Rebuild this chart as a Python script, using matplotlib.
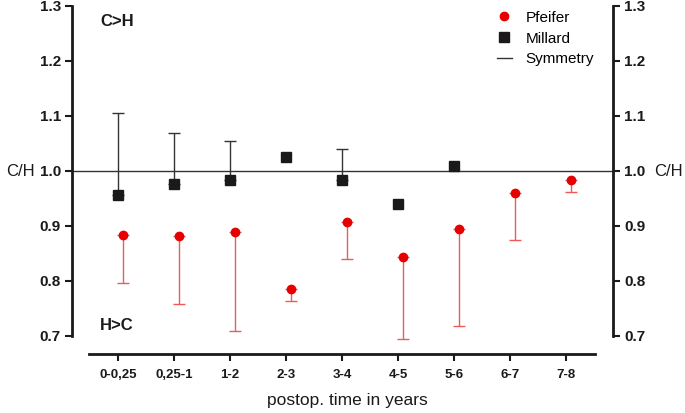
import matplotlib
matplotlib.use("Agg")
import matplotlib.pyplot as plt

plt.rcParams['font.family'] = ['Liberation Sans', 'DejaVu Sans']

# kategorite e kohes
kategorite = ["0-0,25", "0,25-1", "1-2", "2-3", "3-4", "4-5", "5-6", "6-7", "7-8"]

# Pfeifer: mesatarja dhe kufiri i poshtem
pfeifer_mes = [0.884, 0.882, 0.889, 0.785, 0.907, 0.844, 0.895, 0.960, 0.984]
pfeifer_posht = [0.796, 0.758, 0.709, 0.764, 0.840, 0.695, 0.718, 0.875, 0.962]

# Millard: mesatarja dhe kufiri i siperm (None = pa gabim)
millard_mes = [0.956, 0.976, 0.984, 1.025, 0.984, 0.940, 1.009]
millard_sip = [1.105, 1.069, 1.055, None, 1.040, None, None]

simetria = 1.0

fig = plt.figure(figsize=(6.85, 4.13), dpi=100)
ax = fig.add_axes([72/685, 1-354/413, (613-72)/685, (354-6)/413])

x_pf = [i + 1 + 0.09 for i in range(len(pfeifer_mes))]
x_mi = [i + 1 for i in range(len(millard_mes))]

# gabimet e Pfeifer (vetem poshte)
err_pf = [[m - p for m, p in zip(pfeifer_mes, pfeifer_posht)], [0]*len(pfeifer_mes)]
ax.errorbar(x_pf, pfeifer_mes, yerr=err_pf, fmt='none', ecolor='#ec5a5a',
            elinewidth=1, capsize=4, capthick=1, zorder=2)
ax.plot(x_pf, pfeifer_mes, 'o', color='#e60000', markersize=6, zorder=3,
        label='Pfeifer')

# gabimet e Millard (vetem lart)
for xv, m, s in zip(x_mi, millard_mes, millard_sip):
    if s is not None:
        ax.errorbar([xv], [m], yerr=[[0], [s - m]], fmt='none', ecolor='#333333',
                    elinewidth=1, capsize=4, capthick=1, zorder=2)
ax.plot(x_mi, millard_mes, 's', color='#1a1a1a', markersize=7, zorder=3,
        label='Millard')

ax.axhline(simetria, color='#333333', linewidth=1, zorder=1, label='Symmetry')

ax.set_xlim(0.18, 9.84)
ax.set_ylim(0.667, 1.3)

ax.spines['top'].set_visible(False)
for s in ['left', 'right', 'bottom']:
    ax.spines[s].set_linewidth(2)
    ax.spines[s].set_color('#1a1a1a')
ax.spines['left'].set_bounds(0.7, 1.3)
ax.spines['right'].set_bounds(0.7, 1.3)
ax.spines['bottom'].set_bounds(0.48, 9.52)

ax.set_yticks([0.7, 0.8, 0.9, 1.0, 1.1, 1.2, 1.3])
ax.set_yticklabels(["0.7", "0.8", "0.9", "1.0", "1.1", "1.2", "1.3"])
ax.set_xticks(range(1, 10))
ax.set_xticklabels(kategorite)
ax.tick_params(axis='both', direction='out', length=5, width=1.5,
               colors='#1a1a1a', pad=3)
ax.tick_params(axis='x', labelsize=9.5, pad=6)
ax.tick_params(axis='y', labelsize=11, right=True, labelright=True)
for lbl in ax.get_xticklabels() + ax.get_yticklabels():
    lbl.set_fontweight('bold')
for t in ax.yaxis.get_major_ticks():
    t.tick1line.set_clip_on(False)
    t.tick2line.set_clip_on(False)

fig.text(20/685, 1-171/413, "C/H", fontsize=12, ha='center', va='center', color='#1a1a1a')
fig.text(668/685, 1-171/413, "C/H", fontsize=12, ha='center', va='center', color='#1a1a1a')
fig.text(347/685, 1-401/413, "postop. time in years", fontsize=12.5, ha='center',
         va='center', color='#1a1a1a')
fig.text(100/685, 1-22/413, "C>H", fontsize=12, fontweight='bold', va='center',
         color='#1a1a1a')
fig.text(100/685, 1-325/413, "H>C", fontsize=12, fontweight='bold', va='center',
         color='#1a1a1a')

ax.legend(loc='upper left', bbox_to_anchor=(483/685, 1+3/413),
          bbox_transform=fig.transFigure, frameon=False, fontsize=11,
          handlelength=1.0, handletextpad=0.9, labelspacing=0.45)

fig.savefig("out.png", dpi=100)
